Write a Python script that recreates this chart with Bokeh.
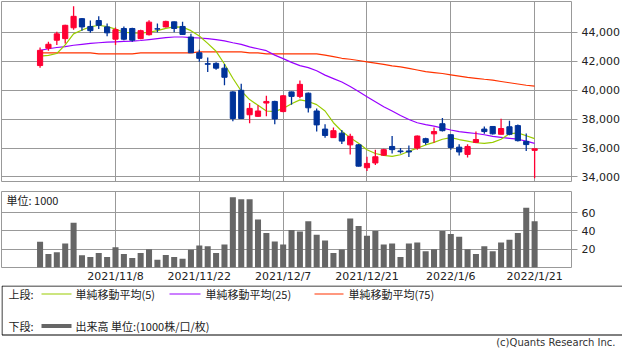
from bokeh.plotting import figure
from bokeh.layouts import column
from bokeh.models import Range1d, FixedTicker, NumeralTickFormatter, ColumnDataSource, Label
from bokeh.embed import file_html
from bokeh.resources import INLINE

# ---------------- data ----------------
dates = ["2021/10/25", "2021/10/26", "2021/10/27", "2021/10/28", "2021/10/29",
         "2021/11/1", "2021/11/2", "2021/11/4", "2021/11/5", "2021/11/8",
         "2021/11/9", "2021/11/10", "2021/11/11", "2021/11/12", "2021/11/15",
         "2021/11/16", "2021/11/17", "2021/11/18", "2021/11/19", "2021/11/22",
         "2021/11/24", "2021/11/25", "2021/11/26", "2021/11/29", "2021/11/30",
         "2021/12/1", "2021/12/2", "2021/12/3", "2021/12/6", "2021/12/7",
         "2021/12/8", "2021/12/9", "2021/12/10", "2021/12/13", "2021/12/14",
         "2021/12/15", "2021/12/16", "2021/12/17", "2021/12/20", "2021/12/21",
         "2021/12/22", "2021/12/23", "2021/12/24", "2021/12/27", "2021/12/28",
         "2021/12/29", "2021/12/30", "2022/1/4", "2022/1/5", "2022/1/6",
         "2022/1/7", "2022/1/11", "2022/1/12", "2022/1/13", "2022/1/14",
         "2022/1/17", "2022/1/18", "2022/1/19", "2022/1/20", "2022/1/21"]

opens = [41700, 42900, 43450, 43560, 44310, 44940, 44400, 44810, 44370, 43520,
         44260, 44260, 43560, 43830, 44240, 44370, 44720, 44400, 43670, 42580,
         41830, 41850, 41520, 39880, 39990, 38300, 38190, 39110, 39220, 38520,
         39880, 39570, 39790, 38560, 37310, 36720, 37030, 36220, 36220, 34640,
         34970, 35510, 36110, 35800, 35800, 36000, 36650, 36980, 37680, 36920,
         36060, 35560, 36390, 37310, 37490, 36950, 37470, 37550, 36460, 35840]
highs = [42950, 43340, 44040, 44520, 45800, 44990, 44810, 45100, 44610, 44330,
         44400, 44310, 44180, 44830, 44610, 44790, 44750, 44720, 43890, 42790,
         42250, 41920, 41810, 39920, 40450, 39110, 38960, 39610, 39260, 39660,
         39900, 40670, 39830, 38740, 37640, 37420, 37250, 36980, 36280, 35400,
         35890, 35950, 36830, 36000, 36170, 36870, 36720, 37420, 38080, 36960,
         36260, 36260, 37140, 37490, 37490, 38020, 37890, 37620, 37000, 35950]
lows = [41540, 42730, 43120, 43230, 44180, 44110, 43960, 44220, 43720, 43120,
        43450, 43340, 43520, 43780, 44000, 44330, 44000, 43830, 42580, 41960,
        41260, 41410, 40340, 37860, 38010, 37710, 38170, 38190, 37640, 38470,
        39000, 39440, 38450, 37140, 36720, 36700, 36280, 35560, 34720, 34420,
        34830, 35450, 35620, 35620, 35380, 35890, 36220, 36370, 37140, 35890,
        35490, 35340, 36390, 36980, 36940, 36950, 36890, 36460, 35790, 33920]
closes = [42750, 43170, 43890, 44480, 45100, 44370, 44110, 44480, 43960, 44180,
          43520, 43450, 44110, 44700, 44220, 44750, 44260, 43850, 42580, 42200,
          41790, 41520, 40890, 38040, 38040, 38740, 38560, 39220, 38010, 39610,
          39570, 40400, 38780, 37600, 36870, 37200, 36480, 36810, 34750, 34940,
          35400, 35890, 35890, 35750, 35730, 36830, 36390, 37140, 37200, 36040,
          35730, 36110, 36590, 37140, 36980, 37350, 36950, 36510, 36240, 35950]

volume = [28.1, 14.7, 16.8, 26.3, 49.1, 13.3, 11.6, 15.8, 11.6, 22.1,
          14.7, 10.5, 15.8, 20.0, 8.4, 13.7, 11.6, 9.5, 19.3, 24.2,
          23.2, 15.8, 25.3, 76.8, 74.7, 74.7, 52.6, 37.9, 28.4, 25.3,
          41.1, 39.3, 50.5, 35.8, 29.5, 15.8, 19.6, 53.7, 45.3, 34.7,
          40.0, 25.3, 26.3, 11.6, 26.3, 27.4, 17.9, 20.0, 40.0, 36.8,
          33.7, 20.0, 14.7, 23.2, 17.9, 27.4, 30.5, 37.9, 65.3, 50.5]

sma5 = [42355, 42400, 42530, 43123, 43890, 44154, 44373, 44482, 44395, 44219,
        44000, 43956, 43934, 44000, 44110, 44263, 44373, 44351, 44110, 43737,
        43232, 42684, 41807, 40820, 39943, 39351, 38956, 38561, 38518, 38737,
        39066, 39329, 39219, 39000, 38561, 37750, 37158, 36719, 36325, 35886,
        35623, 35491, 35425, 35535, 35776, 35995, 36215, 36390, 36610, 36719,
        36588, 36478, 36368, 36325, 36390, 36610, 36982, 37048, 36850, 36650]
sma25 = [42750, 42860, 42947, 43013, 43101, 43167, 43232, 43276, 43320, 43342,
         43364, 43386, 43430, 43496, 43561, 43627, 43671, 43671, 43627, 43605,
         43561, 43496, 43408, 43276, 43167, 42991, 42860, 42728, 42421, 42180,
         41917, 41697, 41560, 41340, 41040, 40800, 40560, 40250, 39900, 39550,
         39200, 38850, 38560, 38250, 37970, 37750, 37620, 37509, 37377, 37246,
         37136, 37070, 37004, 36917, 36807, 36741, 36675, 36610, 36478, 36325]
sma75 = [42575, 42575, 42575, 42575, 42575, 42575, 42575, 42509, 42509, 42509,
         42509, 42509, 42575, 42575, 42575, 42575, 42575, 42575, 42575, 42640,
         42640, 42640, 42640, 42640, 42640, 42575, 42575, 42509, 42509, 42509,
         42509, 42509, 42509, 42509, 42421, 42311, 42202, 42136, 42048, 41960,
         41873, 41785, 41675, 41610, 41500, 41390, 41281, 41215, 41149, 41061,
         40974, 40886, 40820, 40754, 40689, 40600, 40513, 40425, 40338, 40272]

tick_dates = ["2021/11/8", "2021/11/22", "2021/12/7", "2021/12/21", "2022/1/6", "2022/1/21"]
price_ticks = [34000, 36000, 38000, 40000, 42000, 44000]
volume_ticks = [20, 40, 60]

# ---------------- styles ----------------
UP = "#FF0033"
DOWN = "#003399"
VOL = "#666666"
C5, C25, C75 = "#99CC00", "#9900FF", "#FF3300"
GRID = "#999999"
TXT = "#222222"
NUMFONT = "DejaVu Sans"
JPFONT = "Noto Sans CJK JP"

xs = list(range(len(dates)))
tick_pos = [dates.index(d) for d in tick_dates]
colors = [UP if c >= o else DOWN for o, c in zip(opens, closes)]
src = ColumnDataSource(dict(
    x=xs, open=opens, high=highs, low=lows, close=closes,
    top=[max(o, c) for o, c in zip(opens, closes)],
    bottom=[min(o, c) for o, c in zip(opens, closes)],
    color=colors, volume=volume, sma5=sma5, sma25=sma25, sma75=sma75))

x_range = Range1d(-4.6, 63.4)


def style_common(p):
    p.background_fill_color = "white"
    p.border_fill_color = "white"
    p.outline_line_color = GRID
    p.outline_line_width = 1
    p.grid.grid_line_color = GRID
    p.grid.grid_line_width = 1
    p.grid.grid_line_alpha = 1
    p.yaxis.axis_line_color = None
    p.yaxis.major_tick_line_color = GRID
    p.yaxis.major_tick_out = 6
    p.yaxis.major_tick_in = 0
    p.yaxis.minor_tick_line_color = None
    p.yaxis.major_label_standoff = 4
    p.yaxis.major_label_text_font = NUMFONT
    p.yaxis.major_label_text_font_size = "11px"
    p.yaxis.major_label_text_color = TXT


# ---------------- price panel ----------------
pA = figure(frame_width=570, frame_height=180, x_range=x_range,
            y_range=Range1d(33689, 46125), output_backend="svg",
            toolbar_location=None, y_axis_location="right",
            min_border_left=1, min_border_right=51, min_border_top=1,
            min_border_bottom=10)
style_common(pA)
pA.xaxis.visible = False
pA.xgrid.ticker = FixedTicker(ticks=tick_pos)
pA.ygrid.ticker = FixedTicker(ticks=price_ticks)
pA.yaxis.ticker = FixedTicker(ticks=price_ticks)
pA.yaxis.formatter = NumeralTickFormatter(format="0,0")

pA.line("x", "sma75", source=src, line_color=C75, line_width=1.2)
pA.line("x", "sma25", source=src, line_color=C25, line_width=1.2)
pA.line("x", "sma5", source=src, line_color=C5, line_width=1.2)
pA.segment(x0="x", y0="high", x1="x", y1="low", source=src,
           line_color="color", line_width=1.3)
pA.vbar(x="x", width=0.62, top="top", bottom="bottom", source=src,
        fill_color="color", line_color="color", line_width=1)

# ---------------- volume panel ----------------
pB = figure(frame_width=570, frame_height=76, x_range=x_range,
            y_range=Range1d(0, 83.2), output_backend="svg",
            toolbar_location=None, y_axis_location="right",
            min_border_left=1, min_border_right=51, min_border_top=0,
            min_border_bottom=16)
style_common(pB)
pB.xgrid.ticker = FixedTicker(ticks=tick_pos)
pB.ygrid.ticker = FixedTicker(ticks=volume_ticks)
pB.yaxis.ticker = FixedTicker(ticks=volume_ticks)
pB.xaxis.ticker = FixedTicker(ticks=tick_pos)
pB.xaxis.major_label_overrides = {p: d for p, d in zip(tick_pos, tick_dates)}
pB.xaxis.axis_line_color = None
pB.xaxis.major_tick_line_color = None
pB.xaxis.major_tick_out = 0
pB.xaxis.major_tick_in = 0
pB.xaxis.minor_tick_line_color = None
pB.xaxis.major_label_standoff = 2
pB.xaxis.major_label_text_font = NUMFONT
pB.xaxis.major_label_text_font_size = "11px"
pB.xaxis.major_label_text_color = TXT

pB.vbar(x="x", width=0.72, top="volume", bottom=0, source=src,
        fill_color=VOL, line_color=None)
pB.add_layout(Label(x=-4.0, y=74.4, text="単位: 1000", text_font=JPFONT,
                    text_font_size="11px", text_color=TXT,
                    text_baseline="middle", text_align="left"))

# ---------------- legend / footer ----------------
pC = figure(frame_width=622, frame_height=63, x_range=Range1d(0, 622),
            y_range=Range1d(63, 0), output_backend="svg", toolbar_location=None,
            x_axis_location=None, y_axis_location=None,
            min_border_left=0, min_border_right=0, min_border_top=0,
            min_border_bottom=0)
pC.background_fill_color = "white"
pC.border_fill_color = "white"
pC.outline_line_color = None
pC.grid.visible = False

pC.quad(left=[0.5], right=[621.5], top=[0.5], bottom=[49.5],
        fill_color=None, line_color="#000000", line_width=1)

row1, row2 = 8.5, 40.5


def jp_label(x, y, t):
    pC.add_layout(Label(x=x, y=y, text=t, text_font=JPFONT,
                        text_font_size="11px", text_color=TXT,
                        text_baseline="middle", text_align="left"))


jp_label(7, row1, "上段:")
pC.line([40, 70], [row1, row1], line_color=C5, line_width=1.2)
jp_label(74, row1, "単純移動平均(5)")
pC.line([168, 199], [row1, row1], line_color=C25, line_width=1.2)
jp_label(204, row1, "単純移動平均(25)")
pC.line([313, 342], [row1, row1], line_color=C75, line_width=1.2)
jp_label(347, row1, "単純移動平均(75)")

jp_label(7, row2, "下段:")
pC.line([40, 70], [row2, row2], line_color=VOL, line_width=4)
jp_label(74, row2, "出来高 単位:(1000株/口/枚)")

pC.add_layout(Label(x=614, y=57, text="(c)Quants Research Inc.",
                    text_font=NUMFONT, text_font_size="10px", text_color="#333333",
                    text_baseline="middle", text_align="right"))

layout = column(pA, pB, pC, spacing=0)
open("out.html", "w").write(file_html(layout, INLINE))
